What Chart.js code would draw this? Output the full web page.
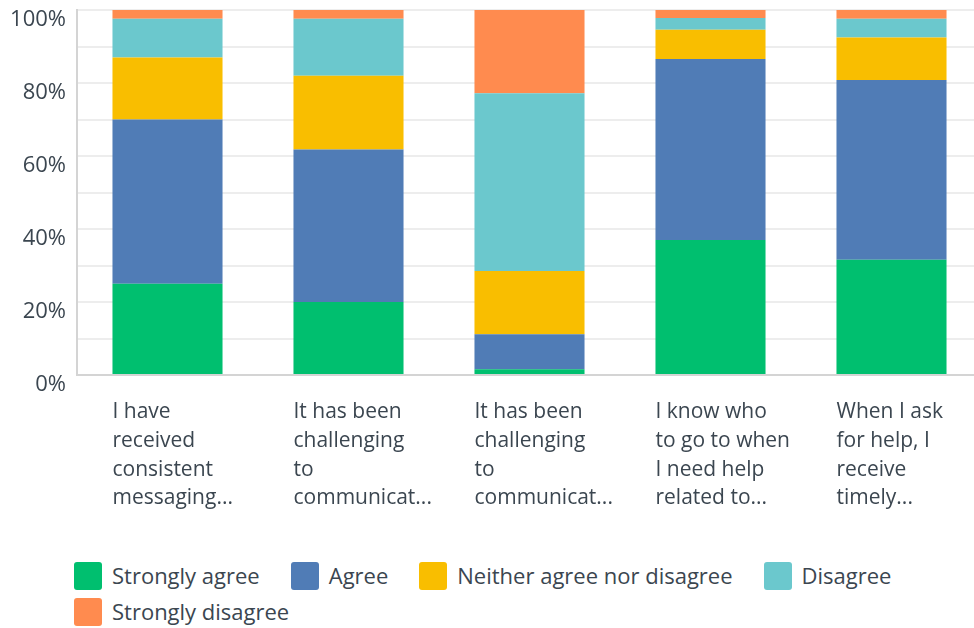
<!DOCTYPE html>
<html>
<head>
<meta charset="utf-8">
<script src="https://cdn.jsdelivr.net/npm/chart.js@4.4.0/dist/chart.umd.min.js"></script>
<style>
  html, body { margin: 0; padding: 0; background: #fff; overflow: hidden; }
  #wrap { position: relative; width: 982px; height: 527px; }
  #legend {
    position: absolute; left: 74px; top: 561px; width: 880px;
    display: flex; flex-wrap: wrap; column-gap: 31px; row-gap: 7px;
    font-family: "Open Sans", sans-serif; font-size: 22px; line-height: 29px; color: #3b4650;
  }
  .item { display: flex; align-items: center; height: 29px; }
  .box { width: 28px; height: 28px; border-radius: 3px; margin-right: 10px; }
</style>
</head>
<body>
<div id="wrap"><canvas id="myChart"></canvas></div>
<div id="legend"></div>
<script>
var questions = [
  ['I have', 'received', 'consistent', 'messaging...'],
  ['It has been', 'challenging', 'to', 'communicat...'],
  ['It has been', 'challenging', 'to', 'communicat...'],
  ['I know who', 'to go to when', 'I need help', 'related to...'],
  ['When I ask', 'for help, I', 'receive', 'timely...']
];
var seriesNames = ['Strongly agree', 'Agree', 'Neither agree nor disagree', 'Disagree', 'Strongly disagree'];
var colors = ['#00bf6f', '#507cb6', '#f9be00', '#6bc8cd', '#ff8b4f'];

var stronglyAgree = [25, 20, 1.6, 37, 31.6];
var agree = [45, 41.8, 9.6, 49.6, 49.2];
var neither = [17, 20.2, 17.3, 8, 11.7];
var disagree = [10.6, 15.6, 48.7, 3.2, 5.1];
var stronglyDisagree = [2.4, 2.4, 22.8, 2.2, 2.4];

var allSeries = [stronglyAgree, agree, neither, disagree, stronglyDisagree];
var textColor = '#3b4650';

var ctx = document.getElementById('myChart').getContext('2d');
var myChart = new Chart(ctx, {
  type: 'bar',
  data: {
    labels: questions,
    datasets: allSeries.map(function (vals, i) {
      return {
        label: seriesNames[i],
        data: vals,
        backgroundColor: colors[i],
        borderWidth: 0,
        categoryPercentage: 0.608,
        barPercentage: 1
      };
    })
  },
  options: {
    responsive: true,
    maintainAspectRatio: false,
    animation: false,
    layout: { padding: { top: 10, left: 0, right: 0, bottom: 0 } },
    plugins: {
      legend: { display: false },
      tooltip: { enabled: false }
    },
    scales: {
      x: {
        stacked: true,
        afterFit: function (scale) { scale.paddingLeft = 0; scale.paddingRight = 0; },
        grid: { display: false },
        border: { color: '#d4d4d4', width: 2 },
        ticks: {
          color: textColor,
          font: { family: 'Open Sans', size: 21, lineHeight: 1.38 },
          align: 'start',
          labelOffset: -55,
          padding: 14,
          maxRotation: 0,
          autoSkip: false
        }
      },
      y: {
        stacked: true,
        min: 0,
        max: 100,
        afterFit: function (scale) {
          scale.width = 77;
          scale.paddingTop = 0;
          scale.paddingBottom = 0;
        },
        grid: { color: '#ededed', lineWidth: 2, drawTicks: false },
        border: { color: '#d4d4d4', width: 2 },
        ticks: {
          stepSize: 10,
          color: textColor,
          padding: 11,
          labelOffset: 10,
          font: { family: 'Open Sans', size: 22 },
          callback: function (v) { return v % 20 === 0 ? v + '%' : ''; }
        }
      }
    }
  }
});

var legend = document.getElementById('legend');
seriesNames.forEach(function (name, i) {
  var item = document.createElement('div');
  item.className = 'item';
  item.innerHTML = '<span class="box" style="background:' + colors[i] + '"></span><span>' + name + '</span>';
  legend.appendChild(item);
});
</script>
</body>
</html>
